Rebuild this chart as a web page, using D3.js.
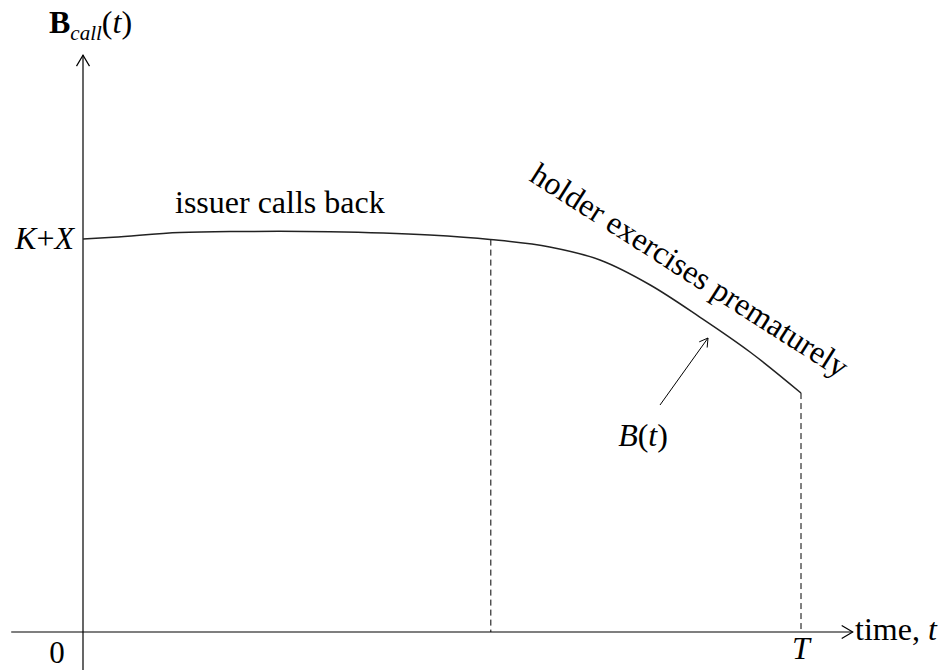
<!DOCTYPE html>
<html><head><meta charset="utf-8">
<script src="https://cdn.jsdelivr.net/npm/d3@7"></script>
<style>
html,body{margin:0;padding:0;background:#fff;}
svg{display:block;}
</style></head>
<body>
<script>
// ---- data ----
const timeValues = [0, 0.042, 0.135, 0.205, 0.274, 0.344, 0.418, 0.483, 0.567, 0.650, 0.720, 0.790, 0.859, 0.929, 1.0];
const bondValues = [1.0, 1.0046, 1.0165, 1.019, 1.0196, 1.0186, 1.0153, 1.010, 0.9987, 0.9796, 0.9466, 0.883, 0.8015, 0.7125, 0.608];
const callBoundary = 0.568;   // switch from "issuer calls back" to "holder exercises"
const maturity = 1.0;         // T
const parLevel = 1.0;         // K+X
const xTickLabels = ["0", "T"];
const yTickLabels = ["K+X"];
const xAxisRange = [-0.1, 1.072];
const yAxisRange = [-0.097, 1.468];

const W = 939, H = 670;
const FONT = "'Liberation Serif', 'Times New Roman', Times, 'DejaVu Serif', serif";
const FS = 32;
const svg = d3.select("body").append("svg").attr("width", W).attr("height", H)
  .attr("font-family", FONT);

const x = d3.scaleLinear().domain([0, 1]).range([83, 801]);
const y = d3.scaleLinear().domain([0, 1]).range([632, 239]);

const ink = "#000";

// arrow markers (open chevrons)
const defs = svg.append("defs");
function chevron(id, size) {
  defs.append("marker").attr("id", id).attr("viewBox", "-12 -8 14 16")
    .attr("refX", 0).attr("refY", 0).attr("markerWidth", size).attr("markerHeight", size)
    .attr("markerUnits", "userSpaceOnUse").attr("orient", "auto")
    .append("path").attr("d", "M-11,-6.5 L0,0 L-11,6.5").attr("fill", "none")
    .attr("stroke", ink).attr("stroke-width", 1.2);
}
chevron("arrAxis", 16);
chevron("arrSmall", 12);

// axes
svg.append("line").attr("x1", x(xAxisRange[0])).attr("x2", x(xAxisRange[1]))
  .attr("y1", y(0)).attr("y2", y(0)).attr("stroke", ink).attr("stroke-width", 1.2)
  .attr("marker-end", "url(#arrAxis)");
svg.append("line").attr("x1", x(0)).attr("x2", x(0))
  .attr("y1", y(yAxisRange[0])).attr("y2", y(yAxisRange[1])).attr("stroke", ink).attr("stroke-width", 1.2)
  .attr("marker-end", "url(#arrAxis)");

// dashed verticals
const interp = d3.scaleLinear().domain(timeValues).range(bondValues);
[callBoundary, maturity].forEach(t => {
  svg.append("line").attr("x1", x(t)).attr("x2", x(t))
    .attr("y1", y(interp(t))).attr("y2", y(0))
    .attr("stroke", ink).attr("stroke-width", 1).attr("stroke-dasharray", "6,4");
});

// curve
const pts = timeValues.map((t, i) => [t, bondValues[i]]);
svg.append("path").datum(pts)
  .attr("d", d3.line().x(d => x(d[0])).y(d => y(d[1])).curve(d3.curveMonotoneX))
  .attr("fill", "none").attr("stroke", "#222").attr("stroke-width", 1.5);

function txt(sel) { return sel.attr("font-family", FONT).attr("fill", ink); }

// y-axis title
const yt = txt(svg.append("text")).attr("x", 49).attr("y", 33).attr("font-size", FS);
yt.append("tspan").attr("font-weight", "bold").text("B");
yt.append("tspan").attr("font-style", "italic").attr("font-size", 21).attr("dy", 7).text("call");
yt.append("tspan").attr("dy", -7).text("(");
yt.append("tspan").attr("font-style", "italic").text("t");
yt.append("tspan").text(")");

// K+X
const kx = txt(svg.append("text")).attr("x", x(0) - 9).attr("y", y(parLevel) + 10)
  .attr("text-anchor", "end").attr("font-size", FS);
kx.append("tspan").attr("font-style", "italic").text(yTickLabels[0].split("+")[0]);
kx.append("tspan").text("+");
kx.append("tspan").attr("font-style", "italic").text(yTickLabels[0].split("+")[1]);

// 0 and T
txt(svg.append("text")).attr("x", x(0) - 26).attr("y", 663).attr("text-anchor", "middle")
  .attr("font-size", 31).text(xTickLabels[0]);
txt(svg.append("text")).attr("x", x(maturity)).attr("y", 659).attr("text-anchor", "middle")
  .attr("font-size", FS).attr("font-style", "italic").text(xTickLabels[1]);

// x-axis title
const xt = txt(svg.append("text")).attr("x", 855).attr("y", 640).attr("font-size", FS);
xt.append("tspan").text("time, ");
xt.append("tspan").attr("font-style", "italic").text("t");

// region labels
txt(svg.append("text")).attr("x", 175).attr("y", 213).attr("font-size", FS).text("issuer calls back");
txt(svg.append("text")).attr("transform", "translate(528,180) rotate(32.5)")
  .attr("font-size", FS).text("holder exercises prematurely");

// B(t) annotation
svg.append("line").attr("x1", 660).attr("y1", 405).attr("x2", 708).attr("y2", 338)
  .attr("stroke", ink).attr("stroke-width", 1).attr("marker-end", "url(#arrSmall)");
const bt = txt(svg.append("text")).attr("x", 643).attr("y", 446).attr("text-anchor", "middle").attr("font-size", FS);
bt.append("tspan").attr("font-style", "italic").text("B");
bt.append("tspan").text("(");
bt.append("tspan").attr("font-style", "italic").text("t");
bt.append("tspan").text(")");
</script>
</body></html>
